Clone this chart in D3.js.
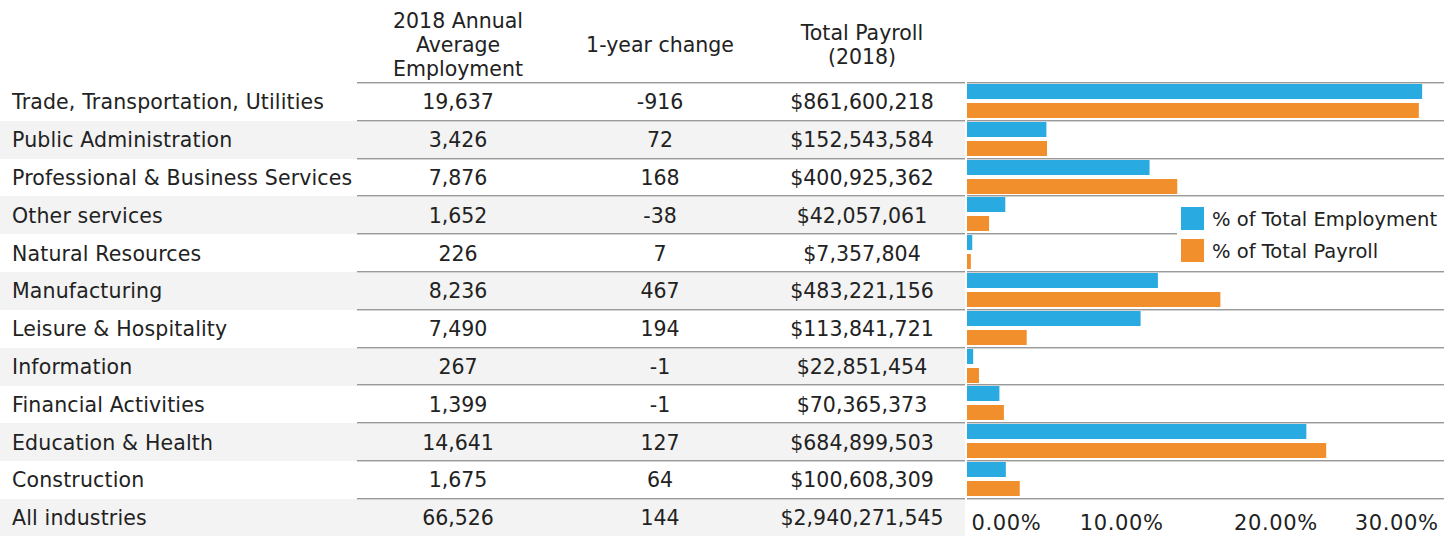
<!DOCTYPE html>
<html>
<head>
<meta charset="utf-8">
<script src="https://cdn.jsdelivr.net/npm/d3@7"></script>
<style>
  body { margin: 0; background: #fff; }
  svg text { font-family: "DejaVu Sans", Verdana, sans-serif; font-size: 20.5px; fill: #222; }
  svg text.label { letter-spacing: 0.15px; }
  svg text.legend { font-size: 19.5px; }
</style>
</head>
<body>
<svg id="chart" width="1455" height="536"></svg>
<script>
// industry rows, top to bottom
var industries = [
	"Trade, Transportation, Utilities",
	"Public Administration",
	"Professional & Business Services",
	"Other services",
	"Natural Resources",
	"Manufacturing",
	"Leisure & Hospitality",
	"Information",
	"Financial Activities",
	"Education & Health",
	"Construction"
];
var employment = [19637, 3426, 7876, 1652, 226, 8236, 7490, 267, 1399, 14641, 1675];
var yearChange = [-916, 72, 168, -38, 7, 467, 194, -1, -1, 127, 64];
var payroll = [861600218, 152543584, 400925362, 42057061, 7357804, 483221156, 113841721, 22851454, 70365373, 684899503, 100608309];

var totalLabel = "All industries";
var totalEmployment = 66526;
var totalChange = 144;
var totalPayroll = 2940271545;

var headers = [
	["2018 Annual", "Average", "Employment"],
	["1-year change"],
	["Total Payroll", "(2018)"]
];
var seriesNames = ["% of Total Employment", "% of Total Payroll"];
var xTicks = [0, 0.1, 0.2, 0.3];

var colors = {"% of Total Employment": "#29aae1", "% of Total Payroll": "#f28f2d"};

var svg = d3.select("#chart");
var rows = industries.concat([totalLabel]);

var y = d3.scaleBand().domain(rows).range([82, 82 + rows.length * 37.8]);
var sub = d3.scaleBand().domain(seriesNames).range([2, 36]).paddingInner(0.21);
var x = d3.scaleLinear().domain([0, 0.31]).range([967, 1445]);

var colCenters = [458, 660, 862];
var tableLeft = 357, tableRight = 965;

var fmtInt = d3.format(",");
var fmtMoney = function(v) { return "$" + d3.format(",")(v); };

// table rows with values
var tableData = industries.map(function(name, i) {
	return {name: name, emp: employment[i], chg: yearChange[i], pay: payroll[i]};
});
tableData.push({name: totalLabel, emp: totalEmployment, chg: totalChange, pay: totalPayroll});

// alternating row backgrounds
svg.append("g").selectAll("rect")
	.data(tableData.filter(function(d, i) { return i % 2 == 1; }))
	.enter().append("rect")
	.attr("x", 0)
	.attr("y", function(d) { return Math.round(y(d.name)) + 1; })
	.attr("width", tableRight)
	.attr("height", Math.round(y.bandwidth()))
	.attr("fill", "#f3f3f3");

// separator lines (dark line + light line)
function sepLine(g, x0, x1, yy) {
	yy = Math.round(yy);
	g.append("rect").attr("x", x0).attr("y", yy).attr("width", x1 - x0).attr("height", 1).attr("fill", "#9a9a9a");
	g.append("rect").attr("x", x0).attr("y", yy + 1).attr("width", x1 - x0).attr("height", 1).attr("fill", "#d2d2d2");
}
var lines = svg.append("g");
rows.forEach(function(r) {
	sepLine(lines, tableLeft, tableRight, y(r));
});
industries.forEach(function(r) {
	sepLine(lines, 967, 1444, y(r));
});
sepLine(lines, 967, 1444, y(totalLabel));

// headers
var head = svg.append("g");
var headBase = [[28, 52, 76], [52], [40, 64]];
headers.forEach(function(h, c) {
	h.forEach(function(line, k) {
		head.append("text")
			.attr("x", colCenters[c])
			.attr("y", headBase[c][k])
			.attr("text-anchor", "middle")
			.text(line);
	});
});

// table cells
var rowG = svg.append("g").selectAll("g")
	.data(tableData)
	.enter().append("g")
	.attr("transform", function(d) { return "translate(0," + (y(d.name) + y.bandwidth() / 2 + 8.5) + ")"; });

rowG.append("text").attr("class", "label").attr("x", 12).text(function(d) { return d.name; });
rowG.append("text").attr("x", colCenters[0]).attr("text-anchor", "middle").text(function(d) { return fmtInt(d.emp); });
rowG.append("text").attr("x", colCenters[1]).attr("text-anchor", "middle").text(function(d) { return d.chg; });
rowG.append("text").attr("x", colCenters[2]).attr("text-anchor", "middle").text(function(d) { return fmtMoney(d.pay); });

// bars
var barRows = svg.append("g").selectAll("g")
	.data(tableData.slice(0, industries.length))
	.enter().append("g")
	.attr("transform", function(d) { return "translate(0," + Math.round(y(d.name)) + ")"; });

barRows.selectAll("rect")
	.data(function(d) {
		return [
			{s: seriesNames[0], v: d.emp / totalEmployment},
			{s: seriesNames[1], v: d.pay / totalPayroll}
		];
	})
	.enter().append("rect")
	.attr("x", x(0))
	.attr("y", function(d) { return sub(d.s); })
	.attr("width", function(d) { return x(d.v) - x(0); })
	.attr("height", sub.bandwidth())
	.attr("fill", function(d) { return colors[d.s]; });

// x axis
var axis = svg.append("g")
	.attr("transform", "translate(0," + y(totalLabel) + ")")
	.call(d3.axisBottom(x).tickValues(xTicks).tickFormat(d3.format(".2%")).tickSize(0));
axis.select(".domain").remove();
axis.selectAll("text")
	.attr("dy", null)
	.attr("y", 32)
	.style("font-size", "21px")
	.style("letter-spacing", "0.6px")
	.style("font-family", "DejaVu Sans, Verdana, sans-serif")
	.attr("fill", "#222");
axis.selectAll(".tick").filter(function(d) { return d == 0; }).select("text")
	.attr("text-anchor", "start").attr("x", 4);
axis.selectAll(".tick").filter(function(d) { return d == 0.3; }).select("text")
	.attr("text-anchor", "end").attr("x", 1438 - x(0.3));

// legend
var legend = svg.append("g");
legend.append("rect").attr("x", 1177).attr("y", 200).attr("width", 268).attr("height", 68).attr("fill", "#fff");
seriesNames.forEach(function(s, i) {
	legend.append("rect")
		.attr("x", 1181).attr("y", 207 + i * 32)
		.attr("width", 23).attr("height", 23)
		.attr("fill", colors[s]);
	legend.append("text")
		.attr("class", "legend")
		.attr("x", 1212).attr("y", 226 + i * 32)
		.text(s);
});
</script>
</body>
</html>
